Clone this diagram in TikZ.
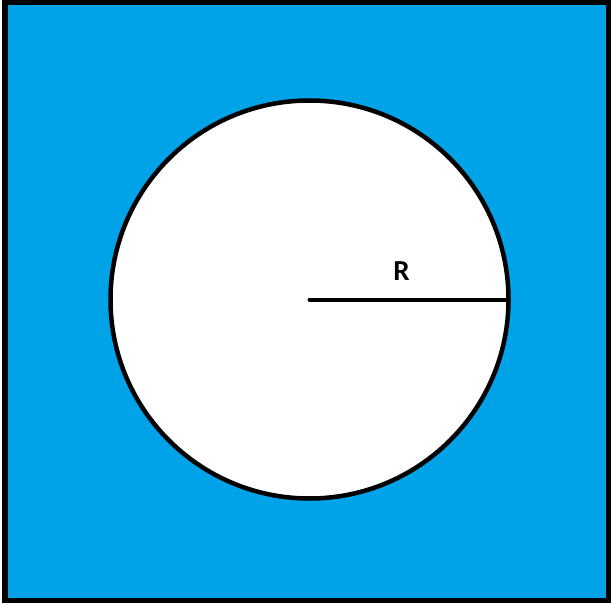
\documentclass[tikz,border=0pt]{standalone}
\usepackage{fontspec}
\setmainfont{Carlito}
\usetikzlibrary{positioning}
\definecolor{paintblue}{RGB}{0,162,232}

\begin{document}
\begin{tikzpicture}[x=1pt, y=-1pt,
    frame/.style={draw=black, line width=5.5pt, fill=paintblue},
    hole/.style={draw=black, line width=4.5pt, fill=white},
    radius line/.style={draw=black, line width=4pt, line cap=round}]
  \useasboundingbox (0,0) rectangle (613,604);
  %% Square plate
  \path[frame] (5,2.5) rectangle (608.5,600.5);
  %% Circular hole
  \coordinate (centre) at (309.5,299.5);
  \coordinate (rim)    at (508.5,299.5);
  \path[hole] (centre) circle[radius=199];
  %% Radius
  \draw[radius line] (centre) -- (rim);
  \node[font=\bfseries\fontsize{29}{30}\selectfont, inner sep=0pt]
    (rlabel) at (401.5,271) {R};
\end{tikzpicture}
\end{document}
